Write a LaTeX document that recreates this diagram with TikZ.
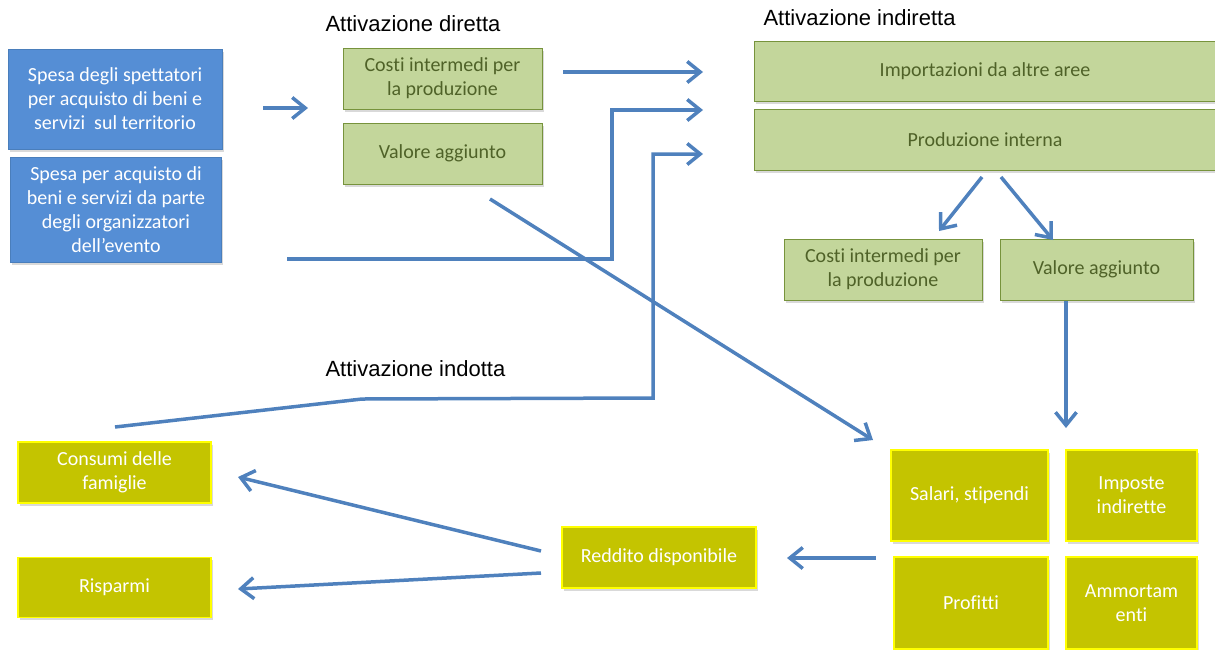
\documentclass[tikz,border=0pt]{standalone}
\usepackage{fontspec}
\setmainfont{Carlito}[Ligatures=NoCommon]
\newfontfamily\labelfont{Liberation Sans}
\usetikzlibrary{arrows.meta,shadows}
\definecolor{spesablue}{HTML}{558ED5}
\definecolor{spesaline}{HTML}{4A7EBB}
\definecolor{attgreen}{HTML}{C3D69B}
\definecolor{attline}{HTML}{77933C}
\definecolor{atttext}{HTML}{4F6228}
\definecolor{redfill}{HTML}{C4C400}
\definecolor{redline}{HTML}{FFFF00}
\definecolor{flow}{HTML}{4F81BD}
\begin{document}
\begin{tikzpicture}[
    x=1pt, y=-1pt,
    box/.style={draw, rectangle, align=center, inner sep=2pt,
        font=\fontsize{20}{24}\selectfont,
        drop shadow={opacity=0.3, shadow xshift=1.5pt, shadow yshift=-2.5pt}},
    spesa/.style={box, fill=spesablue, draw=spesaline, line width=0.8pt, text=white},
    att/.style={box, fill=attgreen, draw=attline, line width=1pt, text=atttext},
    redd/.style={box, fill=redfill, draw=redline, line width=1.2pt, text=white},
    heading/.style={anchor=west, font=\labelfont\fontsize{22}{26}\selectfont},
    arr/.style={draw=flow, line width=3.5pt, -{Straight Barb[length=13pt,width=21pt]}}
]
\useasboundingbox (0,0) rectangle (1215,649);
\node[heading] (hdir) at (322,24) {Attivazione diretta};
\node[heading] (hind) at (760,18) {Attivazione indiretta};
\node[heading] (hindo) at (322,369) {Attivazione indotta};
\node[spesa, minimum width=214, minimum height=100] (sp1) at (115,99)
    {Spesa degli spettatori\\per acquisto di beni e\\servizi\ \ sul territorio};
\node[spesa, minimum width=211, minimum height=105] (sp2) at (116,209.5)
    {Spesa per acquisto di\\beni e servizi da parte\\degli organizzatori\\dell'evento};
\node[att, minimum width=199, minimum height=61] (cdir) at (442.5,78.5) {Costi intermedi per\\la produzione};
\node[att, minimum width=199, minimum height=61] (vdir) at (442.5,153.5) {Valore aggiunto};
\node[att, minimum width=462, minimum height=60] (imp) at (985,71) {Importazioni da altre aree};
\node[att, minimum width=462, minimum height=61] (prod) at (985,139.5) {Produzione interna};
\node[att, minimum width=198, minimum height=61] (cind) at (883,269.5) {Costi intermedi per\\la produzione};
\node[att, minimum width=193, minimum height=61] (vind) at (1096.5,269.5) {Valore aggiunto};
\node[redd, minimum width=157, minimum height=91] (sal) at (969.5,495.5) {Salari, stipendi};
\node[redd, minimum width=131, minimum height=91] (impo) at (1131.5,495.5) {Imposte\\indirette};
\node[redd, minimum width=154, minimum height=92] (prof) at (971,603) {Profitti};
\node[redd, minimum width=131, minimum height=92] (amm) at (1131.5,603) {Ammortam\\enti};
\node[redd, minimum width=194, minimum height=61] (red) at (659,557.5) {Reddito disponibile};
\node[redd, minimum width=193, minimum height=61] (cons) at (114.5,472.5) {Consumi delle\\famiglie};
\node[redd, minimum width=193, minimum height=60] (risp) at (114.5,587.5) {Risparmi};
\coordinate (spout) at (263,108);
\coordinate (dirin) at (308,108);
\coordinate (cout) at (563,72);
\coordinate (cin) at (703,72);
\coordinate (orgout) at (287,259);
\coordinate (orgin) at (703,110);
\coordinate (indout) at (115,427);
\coordinate (indbend) at (362,399);
\coordinate (indin) at (703,154);
\coordinate (vout) at (490,199);
\coordinate (salin) at (873,440);
\coordinate (prodl) at (982,177);
\coordinate (prodr) at (1001,177);
\coordinate (cindin) at (939,231);
\coordinate (vindin) at (1053,240);
\coordinate (vindout) at (1066,301);
\coordinate (remin) at (1066,428);
\coordinate (salout) at (876,558);
\coordinate (redin) at (787,558);
\coordinate (redc) at (541,551);
\coordinate (redr) at (541,573);
\coordinate (consin) at (238,477);
\coordinate (rispin) at (238,589);
\draw[arr] (spout) -- (dirin);
\draw[arr] (cout) -- (cin);
\draw[arr] (orgout) -- (612,259) -- (612,110) -- (orgin);
\draw[arr] (indout) -- (indbend) -- (653,398) -- (653,154) -- (indin);
\draw[arr] (vout) -- (salin);
\draw[arr] (prodl) -- (cindin);
\draw[arr] (prodr) -- (vindin);
\draw[arr] (vindout) -- (remin);
\draw[arr] (salout) -- (redin);
\draw[arr] (redc) -- (consin);
\draw[arr] (redr) -- (rispin);
\end{tikzpicture}
\end{document}
